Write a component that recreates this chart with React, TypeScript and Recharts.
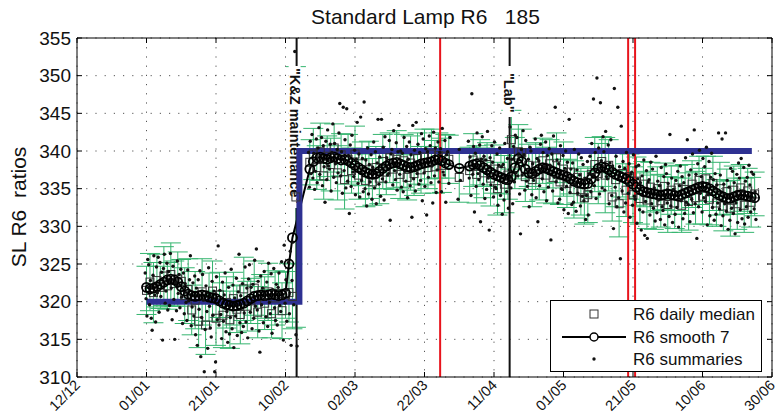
import React from "react";
import {
  ComposedChart,
  Line,
  Scatter,
  ErrorBar,
  XAxis,
  YAxis,
  CartesianGrid,
  ReferenceLine,
} from "recharts";

const FONT = '"Liberation Sans", Arial, Helvetica, sans-serif';

// x is counted in days from 12/12
const dayTicks = [0, 20, 40, 60, 80, 100, 120, 140, 160, 180, 200];
const dayTickLabels = ["12/12", "01/01", "21/01", "10/02", "02/03", "22/03", "11/04", "01/05", "21/05", "10/06", "30/06"];
const ratioTicks = [310, 315, 320, 325, 330, 335, 340, 345, 350, 355];

// 7-day smooth, first block starts 01/01, second after the maintenance
const smoothStartA = 20;
const smoothA = [
  321.9, 321.7, 321.8, 322.0, 322.3, 322.6, 322.9, 323.0, 322.9, 322.6,
  322.0, 321.4, 321.0, 320.8, 320.7, 320.8, 320.9, 320.8, 320.6, 320.5,
  320.4, 320.1, 319.8, 319.6, 319.5, 319.4, 319.5, 319.6, 319.8, 320.1,
  320.4, 320.7, 320.8, 320.9, 320.8, 320.9, 321.0, 320.9, 320.8, 320.9,
  321.1, 325.0, 328.5,
];
const smoothStartB = 67;
const smoothB: (number | null)[] = [
  337.6, 338.6, 339.1, 339.2, 339.0, 338.9, 339.1, 339.2, 339.0, 338.8,
  338.9, 338.7, 338.4, 338.1, 337.8, 337.5, 337.2, 337.0, 336.9, 337.0,
  337.3, 337.7, 338.0, 338.3, 338.4, 338.5, 338.3, 338.1, 337.9, 337.8,
  337.9, 338.1, 338.3, 338.4, 338.5, 338.6, 338.8, 338.9, 338.7, 338.4,
  338.2, null, null, 337.7, null, null, 338.0, 338.2, 338.3, 338.1,
  337.8, 337.5, 337.2, 336.9, 336.7, 336.5, 336.3, 336.2, 336.6, 337.8,
  339.0, 338.6, 337.6, 337.1, 337.0, 337.3, 337.6, 337.8, 337.7, 337.5,
  337.3, 337.1, 336.9, 336.8, 336.6, 336.3, 336.0, 335.8, 335.7, 335.6,
  335.7, 336.3, 337.1, 337.7, 337.9, 337.8, 337.5, 337.2, 336.9, 336.7,
  336.5, 336.3, 336.0, 335.6, 335.2, 334.9, 334.6, 334.5, 334.4, 334.3,
  334.2, 334.1, 334.2, 334.3, 334.2, 334.1, 334.0, 334.2, 334.4, 334.6,
  334.8, 335.0, 335.2, 335.3, 335.2, 335.0, 334.7, 334.4, 334.1, 333.9,
  333.7, 333.7, 333.9, 334.1, 334.2, 334.1, 334.0, 333.9, 333.8,
];

// daily medians and their error half-widths
const medianStartA = 20;
const medianA = [
  321.5, 322.6, 321.2, 322.8, 321.9, 323.4, 322.1, 323.6, 322.4, 323.0,
  322.7, 320.8, 321.6, 318.9, 320.2, 317.4, 321.3, 316.9, 320.6, 321.4,
  317.8, 320.9, 318.2, 319.9, 317.6, 320.4, 319.0, 318.3, 321.7, 319.4,
  320.1, 321.8, 318.6, 320.7, 319.8, 321.3, 318.4, 320.5, 321.1, 318.8,
  320.9, 321.2, 320.7, 333.9,
];
const medianErrA = [
  3.2, 3.8, 4.0, 3.5, 2.8, 3.9, 3.1, 4.2, 3.0, 3.6,
  2.9, 3.7, 4.1, 3.3, 3.8, 3.5, 4.4, 3.9, 3.2, 4.0,
  3.6, 3.0, 4.3, 3.4, 3.8, 3.5, 3.1, 3.9, 4.2, 3.3,
  3.0, 3.6, 3.4, 2.9, 3.5, 3.8, 3.2, 3.6, 2.8, 3.7,
  3.1, 3.9, 4.3, 17.3,
];
const medianStartB = 67;
const medianB: (number | null)[] = [
  338.5, 339.6, 337.8, 339.9, 336.7, 339.3, 338.2, 340.4, 337.1, 339.5,
  336.2, 338.9, 337.4, 339.6, 336.8, 338.3, 336.1, 337.5, 335.9, 337.8,
  336.4, 338.6, 337.2, 339.1, 337.6, 338.9, 336.9, 338.7, 336.5, 338.4,
  337.0, 339.0, 337.5, 339.2, 337.8, 339.6, 337.9, 339.4, 338.1, 339.3,
  338.9, null, null, 336.5, null, null, 337.4, 338.8, 336.9, 338.5,
  337.1, 338.2, 336.4, 337.6, 335.0, 337.3, 335.6, 336.8, 341.5, 338.4,
  339.9, 339.8, 336.6, 338.1, 336.2, 338.0, 336.9, 338.7, 336.8, 338.3,
  336.5, 339.1, 335.9, 337.6, 335.7, 337.2, 334.9, 336.5, 334.6, 333.8,
  334.2, 336.9, 338.2, 337.0, 338.6, 336.8, 338.1, 333.9, 336.2, 333.0,
  337.0, 334.8, 336.6, 334.2, 336.0, 333.7, 335.6, 333.5, 335.2, 333.2,
  335.0, 333.4, 335.3, 332.9, 334.8, 333.1, 335.1, 332.8, 334.9, 333.3,
  335.6, 333.8, 336.1, 334.0, 336.3, 333.6, 335.7, 333.1, 335.0, 332.7,
  334.6, 332.4, 334.8, 333.0, 335.1, 332.8, 334.7, 333.2, 334.3,
];
const medianErrB: (number | null)[] = [
  3.0, 3.4, 2.9, 3.8, 3.1, 2.7, 3.5, 3.2, 3.6, 2.8,
  3.9, 3.3, 3.0, 3.7, 3.2, 2.9, 3.5, 3.8, 3.1, 2.8,
  3.4, 3.6, 3.0, 3.3, 2.7, 3.8, 3.2, 3.5, 3.0, 3.6,
  2.9, 3.4, 3.1, 3.7, 2.8, 3.3, 3.5, 3.0, 3.6, 2.9,
  3.2, null, null, 3.3, null, null, 3.1, 3.5, 3.8, 3.0,
  3.3, 2.9, 3.7, 3.2, 3.5, 3.0, 3.8, 3.2, 3.9, 3.4,
  3.6, 3.1, 3.3, 2.8, 3.6, 3.1, 3.4, 3.0, 3.7, 3.2,
  3.5, 3.3, 3.0, 3.6, 3.2, 2.9, 3.8, 3.4, 3.1, 3.5,
  3.7, 3.0, 3.6, 4.0, 3.3, 5.0, 3.4, 3.2, 3.6, 4.4,
  3.1, 3.5, 3.0, 3.7, 3.2, 3.4, 3.0, 3.8, 3.3, 3.6,
  2.9, 3.5, 3.1, 3.7, 3.2, 3.4, 3.0, 3.6, 3.3, 3.8,
  3.1, 3.5, 3.2, 3.7, 3.0, 3.4, 3.6, 3.1, 3.5, 3.3,
  3.0, 3.7, 3.2, 3.4, 3.1, 3.6, 3.0, 3.3, 2.9,
];

// individual summaries, grouped per day
const summaryStartA = 20;
const summaryA: number[][] = [
  [323.8, 320.4, 318.1, 325.6], [324.9, 319.6, 322.8, 317.8], [316.2, 323.5, 326.1, 320.9],
  [317.3, 324.6, 321.2, 325.9], [318.6, 325.2, 320.7, 323.9], [314.9, 324.4, 326.3, 319.8],
  [321.4, 325.1, 318.9, 324.0], [319.5, 326.4, 321.8, 317.6], [324.7, 320.3, 315.0, 322.5],
  [318.8, 325.4, 321.1, 323.6], [319.2, 324.3, 320.6, 317.1], [323.8, 318.4, 322.4, 319.9],
  [317.5, 324.2, 320.1, 322.9], [326.1, 316.8, 319.3, 322.5], [318.1, 323.4, 315.6, 321.8],
  [314.2, 322.9, 319.0, 324.1], [312.7, 317.9, 323.6, 320.2], [310.7, 316.3, 322.1, 318.7],
  [313.8, 324.5, 319.4, 316.5], [315.3, 322.7, 318.2, 321.4], [310.7, 312.0, 323.3, 317.6],
  [327.4, 316.9, 321.5, 318.3], [315.1, 322.6, 317.4, 320.9], [323.8, 316.0, 318.7, 314.6],
  [321.9, 315.7, 317.9, 324.3], [316.4, 322.2, 313.9, 320.5], [318.1, 323.1, 315.5, 321.3],
  [326.3, 317.2, 320.8, 315.9], [322.4, 316.7, 318.5, 324.6], [317.3, 321.8, 315.2, 323.0],
  [324.9, 318.6, 321.9, 316.4], [322.3, 317.8, 325.5, 319.4], [327.0, 318.9, 322.7, 316.1],
  [313.3, 323.4, 319.6, 321.8], [317.2, 324.0, 320.3, 318.0], [322.6, 316.7, 325.1, 319.9],
  [318.4, 323.7, 315.8, 321.6], [324.4, 319.2, 317.5, 322.3], [316.9, 321.9, 323.8, 319.5],
  [318.7, 325.3, 320.6, 314.9], [327.5, 319.8, 322.9, 317.4], [321.6, 325.2, 318.4, 326.7],
  [314.2, 322.8, 327.9, 319.6], [353.2, 315.6, 314.1],
];
const summaryStartB = 67;
const summaryB: number[][] = [
  [339.8, 335.2, 341.3, 337.0], [342.2, 336.4, 339.7, 334.9], [337.3, 341.6, 335.8, 340.4],
  [343.1, 336.9, 338.5, 341.8], [335.4, 340.7, 337.9, 333.2], [341.3, 336.2, 342.8, 338.0],
  [337.6, 340.9, 334.7, 339.8], [343.6, 336.5, 341.0, 338.3], [335.8, 340.2, 337.1, 342.4],
  [346.3, 336.7, 339.9, 334.4], [345.8, 337.4, 341.5, 335.1], [345.6, 336.0, 339.4, 331.7],
  [340.8, 335.3, 342.1, 337.2], [336.6, 340.1, 334.2, 338.9], [343.8, 335.7, 339.6, 333.9],
  [344.5, 336.1, 339.0, 334.6], [346.5, 335.0, 338.8, 332.7], [340.4, 334.3, 338.2, 335.9],
  [339.5, 333.6, 337.8, 341.2], [335.1, 339.9, 333.0, 338.4], [344.2, 335.6, 339.2, 334.0],
  [344.2, 336.3, 340.5, 333.5], [341.9, 335.9, 339.1, 336.8], [337.0, 341.4, 330.8, 339.6],
  [340.2, 335.5, 342.7, 337.4], [336.2, 341.1, 334.8, 339.9], [343.4, 336.9, 340.0, 335.2],
  [339.7, 334.6, 341.8, 337.3], [336.0, 340.6, 333.8, 338.9], [341.2, 335.4, 339.5, 331.2],
  [343.4, 336.3, 340.1, 334.7], [343.8, 337.0, 340.9, 335.6], [339.8, 336.1, 342.3, 333.4],
  [341.6, 337.1, 335.3, 340.3], [331.5, 339.9, 336.5, 342.0], [340.7, 335.8, 338.0, 333.1],
  [342.5, 336.7, 340.4, 334.5], [337.5, 341.2, 335.9, 339.8], [340.3, 334.6, 343.0, 337.2],
  [336.8, 341.4, 333.2, 339.5], [339.9, 335.7, 341.8], [], [],
  [333.6, 340.2, 336.1], [], [],
  [341.3, 336.4, 339.2, 334.1], [347.6, 336.9, 340.6, 331.9], [339.7, 335.3, 342.4, 337.0],
  [336.2, 340.8, 330.6, 338.9], [341.9, 335.6, 339.3, 333.7], [338.8, 334.9, 342.6, 336.4],
  [329.5, 339.1, 335.5, 340.7], [338.5, 333.9, 341.2, 335.2], [335.0, 339.6, 332.8, 338.1],
  [340.4, 334.1, 337.9, 331.6], [338.2, 333.5, 341.0, 335.7], [334.6, 339.0, 332.4, 337.5],
  [343.2, 335.1, 338.9, 333.0], [340.6, 335.9, 342.1, 337.1], [341.8, 336.7, 339.6, 334.3],
  [329.0, 340.2, 336.8, 342.7], [339.5, 334.8, 341.4, 336.0], [335.3, 338.9, 332.6, 340.5],
  [340.0, 334.2, 338.3, 336.1], [336.9, 341.6, 333.8, 339.0], [330.6, 338.7, 335.4, 340.9],
  [342.1, 336.3, 339.8, 334.6], [337.9, 341.2, 333.4, 339.4], [335.2, 340.3, 338.1, 328.2],
  [339.6, 334.7, 342.0, 336.5], [345.8, 335.9, 338.8, 333.1], [338.3, 333.6, 340.7, 335.0],
  [334.9, 339.4, 332.2, 337.7], [340.0, 335.3, 338.5, 331.7], [344.2, 334.5, 337.6, 332.9],
  [338.4, 333.2, 340.2, 335.6], [332.0, 337.5, 334.4, 339.6], [336.8, 332.7, 339.1, 334.0],
  [338.2, 333.4, 336.4, 330.9], [334.1, 338.6, 331.5, 337.0], [339.3, 334.6, 341.0, 336.9],
  [346.9, 335.4, 339.8, 333.7], [349.7, 336.2, 340.4, 334.3], [346.4, 338.7, 335.1, 341.9],
  [339.9, 334.8, 342.6, 336.6], [336.3, 340.8, 333.0, 338.4], [341.5, 334.1, 338.0, 329.7],
  [348.3, 335.2, 339.3, 332.6], [345.8, 333.8, 337.9, 325.7], [343.3, 334.7, 338.6, 331.9],
  [337.7, 333.1, 339.8, 335.5], [334.4, 338.3, 331.2, 336.9], [337.2, 332.8, 339.5, 334.0],
  [333.6, 337.9, 330.4, 336.3], [338.1, 332.2, 335.8, 329.5], [336.7, 331.9, 338.8, 328.8],
  [333.3, 337.4, 328.4, 335.9], [336.2, 331.5, 338.5, 333.0], [337.6, 332.4, 335.1, 330.7],
  [339.3, 331.8, 336.0, 333.5], [335.4, 330.9, 337.8, 332.6], [332.1, 336.6, 330.2, 338.2],
  [337.0, 333.1, 335.7, 331.3], [342.2, 332.7, 336.4, 330.5], [334.9, 338.7, 331.6, 336.1],
  [332.5, 337.3, 329.9, 335.4], [338.0, 333.4, 336.6, 331.0], [335.8, 331.7, 339.1, 333.2],
  [341.5, 332.9, 336.8, 330.6], [337.5, 333.6, 339.6, 331.8], [342.8, 333.0, 336.9, 328.4],
  [338.3, 332.6, 340.1, 334.4], [336.6, 331.9, 339.0, 333.8], [337.9, 333.3, 340.5, 330.2],
  [334.2, 338.6, 331.4, 336.5], [339.7, 332.5, 336.2, 330.8], [337.0, 331.6, 335.5, 333.1],
  [342.4, 332.3, 336.8, 330.1], [341.6, 331.4, 335.6, 333.0], [342.4, 332.0, 336.1, 329.6],
  [335.2, 330.8, 337.7, 332.4], [337.3, 331.7, 335.8, 329.0], [333.1, 336.9, 330.5, 338.4],
  [336.4, 332.2, 339.0, 331.0], [334.7, 337.8, 330.3, 336.0], [332.6, 336.5, 331.2, 338.1],
  [335.5, 331.9, 337.2, 333.4], [336.9, 332.3, 334.6, 330.9],
];

// reference ratio levels before / after the maintenance
const levelDays = [20, 64, 64, 194.2];
const levelValues = [320, 320, 340, 340];

const kzDay = 63.2;
const labDay = 124.5;
const redDays = [104.5, 158.6, 160.6];

const smoothRows = [
  ...smoothA.map((v, i) => ({ day: smoothStartA + i, v })),
  ...smoothB.map((v, i) => ({ day: smoothStartB + i, v })),
].filter((r) => r.v !== null);

const medianRows = [
  ...medianA.map((v, i) => ({ day: medianStartA + i, v, err: medianErrA[i] })),
  ...medianB.map((v, i) => ({ day: medianStartB + i, v, err: medianErrB[i] })),
].filter((r) => r.v !== null);

const summaryRows: { day: number; v: number }[] = [];
const pushSummaries = (start: number, groups: number[][]) =>
  groups.forEach((g, i) =>
    g.forEach((v, k) => summaryRows.push({ day: start + i + (k + 0.5) / g.length - 0.5, v }))
  );
pushSummaries(summaryStartA, summaryA);
pushSummaries(summaryStartB, summaryB);

const levelRows = levelDays.map((day, i) => ({ day, v: levelValues[i] }));

const GREEN = "#35b56f";
const NAVY = "#2e3192";
const RED = "#e8141c";
const INK = "#111";

function BottomTick({ x, y, payload }: any) {
  const label = dayTickLabels[dayTicks.indexOf(payload.value)];
  const ax = x + 4;
  const ay = y + 9;
  return (
    <g>
      <line x1={x} x2={x} y1={y} y2={y - 5} stroke="#000" />
      <text x={ax} y={ay} textAnchor="end" transform={`rotate(-45 ${ax} ${ay})`} fontSize={14.5} fontFamily={FONT} fill={INK}>
        {label}
      </text>
    </g>
  );
}

function TopTick({ x, y }: any) {
  return <line x1={x} x2={x} y1={y} y2={y + 5} stroke="#000" />;
}

function LeftTick({ x, y, payload }: any) {
  return (
    <g>
      <line x1={x} x2={x + 5} y1={y} y2={y} stroke="#000" />
      <text x={x - 6} y={y} textAnchor="end" dominantBaseline="central" fontSize={19} fontFamily={FONT} fill={INK}>
        {payload.value}
      </text>
    </g>
  );
}

function RightTick({ x, y }: any) {
  return <line x1={x - 5} x2={x} y1={y} y2={y} stroke="#000" />;
}

// rotated event caption on a white strip, hiding the marker line behind it
function MarkerText({ viewBox, text, boxLen, dx = 0, dy = 0, pad = 3 }: any) {
  if (!viewBox) return null;
  const x = viewBox.x + dx;
  const y = viewBox.y + dy;
  return (
    <g transform={`translate(${x},${y}) rotate(90)`}>
      <rect x={-pad} y={-6} width={boxLen} height={12} fill="#fff" />
      <text x={0} y={0} dominantBaseline="central" fontSize={14.5} fontWeight="bold" fontFamily={FONT} fill={INK}>
        {text}
      </text>
    </g>
  );
}

const square = (p: any) => (
  <rect x={p.cx - 4} y={p.cy - 4} width={8} height={8} fill="none" stroke="#333" strokeWidth={1} />
);
const dot = (p: any) => <circle cx={p.cx} cy={p.cy} r={1.7} fill={INK} />;

export default function App() {
  return (
    <div style={{ position: "absolute", left: 0, top: 0, width: 779, height: 415, background: "#fff" }}>
      <ComposedChart width={779} height={415} margin={{ top: 8, right: 0, bottom: 0, left: 0 }}>
        <CartesianGrid stroke="#555" strokeDasharray="1.2 8" />
        <XAxis
          xAxisId={0}
          dataKey="day"
          type="number"
          domain={[0, 200]}
          ticks={dayTicks}
          allowDataOverflow
          height={38}
          tickSize={0}
          tickMargin={0}
          tick={<BottomTick />}
          axisLine={{ stroke: "#000" }}
          interval={0}
        />
        <XAxis
          xAxisId="top"
          orientation="top"
          dataKey="day"
          type="number"
          domain={[0, 200]}
          ticks={dayTicks}
          allowDataOverflow
          height={30}
          tickSize={0}
          tickMargin={0}
          tick={<TopTick />}
          axisLine={{ stroke: "#000" }}
          interval={0}
        />
        <YAxis
          yAxisId={0}
          type="number"
          domain={[310, 355]}
          ticks={ratioTicks}
          allowDataOverflow
          width={77}
          tickSize={0}
          tickMargin={0}
          tick={<LeftTick />}
          axisLine={{ stroke: "#000" }}
          interval={0}
        />
        <YAxis
          yAxisId="right"
          orientation="right"
          type="number"
          domain={[310, 355]}
          ticks={ratioTicks}
          allowDataOverflow
          width={7}
          tickSize={0}
          tickMargin={0}
          tick={<RightTick />}
          axisLine={{ stroke: "#000" }}
          interval={0}
        />

        <Scatter data={medianRows} dataKey="v" shape={square} isAnimationActive={false}>
          <ErrorBar dataKey="err" direction="y" width={10} stroke={GREEN} strokeWidth={1} />
        </Scatter>
        <Line
          data={smoothRows}
          dataKey="v"
          stroke="#000"
          strokeWidth={2}
          dot={{ r: 4.5, stroke: "#000", strokeWidth: 1.8, fill: "none" }}
          isAnimationActive={false}
        />
        <Scatter data={summaryRows} dataKey="v" shape={dot} isAnimationActive={false} />

        <ReferenceLine
          x={kzDay}
          stroke={INK}
          strokeWidth={2}
          label={<MarkerText text={'"K&Z maintenance"'} boxLen={142} dx={-2} dy={30} pad={2} />}
        />
        <ReferenceLine
          x={labDay}
          stroke={INK}
          strokeWidth={2}
          label={<MarkerText text={'"Lab"'} boxLen={51} dx={-1} dy={35} pad={7} />}
        />
        {redDays.map((d) => (
          <ReferenceLine key={d} x={d} stroke={RED} strokeWidth={2} />
        ))}

        <Line
          data={levelRows}
          dataKey="v"
          stroke={NAVY}
          strokeWidth={6}
          strokeLinejoin="miter"
          dot={false}
          isAnimationActive={false}
        />
      </ComposedChart>

      <svg width={779} height={415} style={{ position: "absolute", left: 0, top: 0, pointerEvents: "none" }}>
        <text x={425.5} y={24} textAnchor="middle" fontSize={21} fontFamily={FONT} fill={INK} style={{ whiteSpace: "pre" }}>
          {"Standard Lamp R6   185"}
        </text>
        <text
          x={25.5}
          y={207}
          textAnchor="middle"
          transform="rotate(-90 25.5 207)"
          fontSize={21}
          fontFamily={FONT}
          fill={INK}
          style={{ whiteSpace: "pre" }}
        >
          {"SL R6  ratios"}
        </text>

        <g>
          <rect x={550.5} y={300.5} width={211} height={71} fill="#fff" stroke="#000" strokeWidth={1} />
          <rect x={590} y={310} width={8} height={8} fill="none" stroke="#333" />
          <text x={633} y={314} dominantBaseline="central" fontSize={17} fontFamily={FONT} fill={INK}>
            R6 daily median
          </text>
          <line x1={562} x2={626} y1={337} y2={337} stroke="#000" strokeWidth={2} />
          <circle cx={594} cy={337} r={4} fill="#fff" stroke="#000" strokeWidth={1.5} />
          <text x={633} y={337} dominantBaseline="central" fontSize={17} fontFamily={FONT} fill={INK}>
            R6 smooth 7
          </text>
          <circle cx={594} cy={359} r={1.7} fill={INK} />
          <text x={633} y={359} dominantBaseline="central" fontSize={17} fontFamily={FONT} fill={INK}>
            R6 summaries
          </text>
        </g>
      </svg>
    </div>
  );
}
